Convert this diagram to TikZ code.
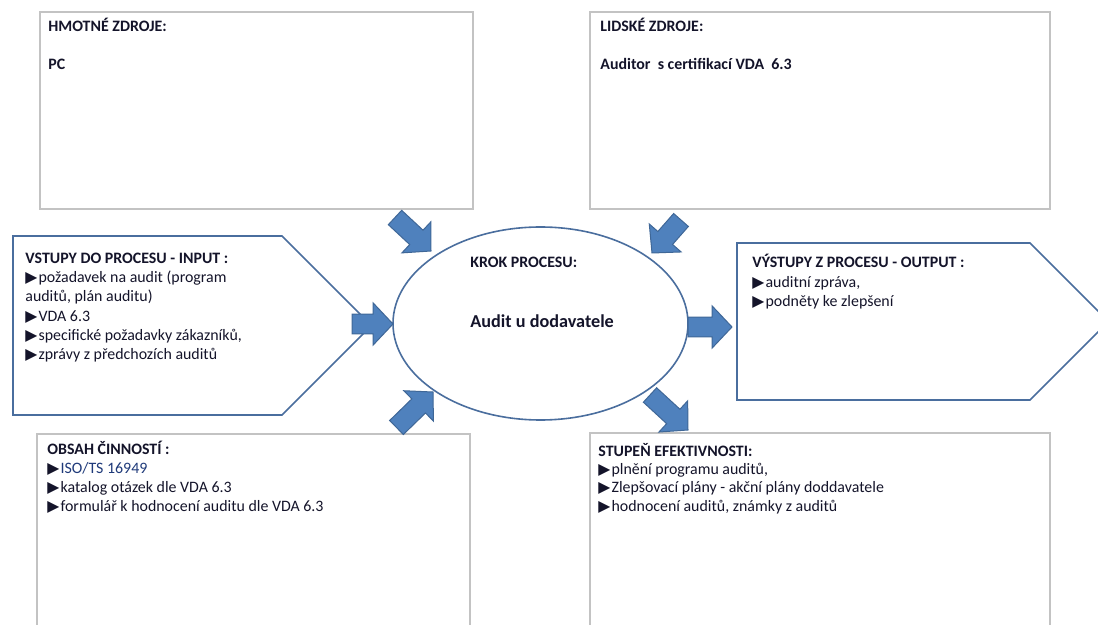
\documentclass[tikz,border=0pt]{standalone}
\usepackage{fontspec}
\setmainfont{Carlito}
\newfontfamily\symfont{DejaVu Sans}
\usetikzlibrary{calc,shapes.geometric}

\definecolor{arrowfill}{HTML}{4F81BD}
\definecolor{arrowline}{HTML}{3F6797}
\definecolor{shapeline}{HTML}{4A6E9E}
\definecolor{boxline}{HTML}{C3C3C3}
\definecolor{ink}{HTML}{14142A}
\definecolor{inkblue}{HTML}{1F3A7A}

% small solid triangle used as list bullet
\newcommand\bul{{\symfont\fontsize{7.8}{7.8}\selectfont ▶}\hspace{0.6pt}}

% block arrow from a tail coordinate to a tip coordinate
\newcommand\blockarrow[3]{% #1 name, #2 tail, #3 tip
  \coordinate (#1-base) at ($(#3)!10pt!(#2)$);
  \draw[barrow] ($(#2)!4.9pt!90:(#3)$) -- ($(#1-base)!4.9pt!90:(#3)$)
    -- ($(#1-base)!10.6pt!90:(#3)$) -- (#3)
    -- ($(#1-base)!10.6pt!-90:(#3)$) -- ($(#1-base)!4.9pt!-90:(#3)$)
    -- ($(#2)!4.9pt!-90:(#3)$) -- cycle;
}

\tikzset{
  panel/.style={draw=boxline, line width=0.6pt},
  flowshape/.style={draw=shapeline, line width=0.8pt},
  hd/.style={font=\fontsize{7.95}{9}\selectfont\bfseries, text=ink, inner sep=0pt, anchor=base west},
  itm/.style={font=\fontsize{7.95}{9}\selectfont, text=ink, inner sep=0pt, anchor=base west},
  barrow/.style={fill=arrowfill, draw=arrowline, line width=0.5pt, line join=miter},
}

\begin{document}
\begin{tikzpicture}[x=0.5pt, y=-0.5pt]
\useasboundingbox (0,0) rectangle (1098,625);
\clip (0,0) rectangle (1098,625);
\fill[white] (0,0) rectangle (1098,625);

% resource and activity panels
\draw[panel] (40,12) rectangle (473,209);
\draw[panel] (590,12) rectangle (1050,209);
\draw[panel] (37,434) rectangle (470,640);
\draw[panel] (590,433) rectangle (1050,640);

% input and output pentagons
\draw[flowshape] (13,236) -- (282,236) -- (371.5,325.5) -- (282,415) -- (13,415) -- cycle;
\draw[flowshape] (737,243) -- (1030,243) -- (1108.5,321.5) -- (1030,400) -- (737,400) -- cycle;

% process step
\node[ellipse, draw=shapeline, line width=0.8pt, inner sep=0pt,
      minimum width=147.5pt, minimum height=96.5pt] (krok) at (540.5,323.5) {};

% block arrows
\coordinate (in-t) at (352,324);   \coordinate (in-h) at (393,324);
\coordinate (out-t) at (688,327);  \coordinate (out-h) at (732,327);
\coordinate (hm-t) at (395,217.5); \coordinate (hm-h) at (431,251);
\coordinate (li-t) at (681,220);   \coordinate (li-h) at (652,253);
\coordinate (ob-t) at (396.5,427.5); \coordinate (ob-h) at (433,392);
\coordinate (st-t) at (650,395);   \coordinate (st-h) at (688,430);
\blockarrow{in}{in-t}{in-h}
\blockarrow{out}{out-t}{out-h}
\blockarrow{hm}{hm-t}{hm-h}
\blockarrow{li}{li-t}{li-h}
\blockarrow{ob}{ob-t}{ob-h}
\blockarrow{st}{st-t}{st-h}

% texts: material resources
\node[hd] (hm1) at (48,31.5) {HMOTNÉ ZDROJE:};
\node[hd] (hm2) at (48,69.5) {PC};

% texts: human resources
\node[hd] (li1) at (600,31.5) {LIDSKÉ ZDROJE:};
\node[hd] (li2) at (600,69.5) {Auditor\ \ s certifikací VDA\ \ 6.3};

% texts: inputs
\node[hd]  (in1) at (25,263.5) {VSTUPY DO PROCESU - INPUT :};
\node[itm] (in2) at (25,282.7) {\bul požadavek na audit (program};
\node[itm] (in3) at (25,301.9) {auditů, plán auditu)};
\node[itm] (in4) at (25,321.1) {\bul VDA 6.3};
\node[itm] (in5) at (25,340.3) {\bul specifické požadavky zákazníků,};
\node[itm] (in6) at (25,359.5) {\bul zprávy z předchozích auditů};

% texts: process step
\node[hd] (kr1) at (470,267.5) {KROK PROCESU:};
\node[hd, font=\fontsize{9.1}{10}\selectfont\bfseries] (kr2) at (470,327.5) {Audit u dodavatele};

% texts: outputs
\node[hd]  (out1) at (752,267.5) {VÝSTUPY Z PROCESU - OUTPUT :};
\node[itm] (out2) at (752,287.5) {\bul auditní zpráva,};
\node[itm] (out3) at (752,306.5) {\bul podněty ke zlepšení};

% texts: activities
\node[hd]  (ob1) at (47,454.5) {OBSAH ČINNOSTÍ :};
\node[itm] (ob2) at (47,473.5) {\bul{\color{inkblue}ISO/TS 16949}};
\node[itm] (ob3) at (47,492.5) {\bul katalog otázek dle VDA 6.3};
\node[itm] (ob4) at (47,512) {\bul formulář k hodnocení auditu dle VDA 6.3};

% texts: effectiveness
\node[hd]  (st1) at (598,456.5) {STUPEŇ EFEKTIVNOSTI:};
\node[itm] (st2) at (598,474.5) {\bul plnění programu auditů,};
\node[itm] (st3) at (598,493) {\bul Zlepšovací plány - akční plány doddavatele};
\node[itm] (st4) at (598,511.5) {\bul hodnocení auditů, známky z auditů};
\end{tikzpicture}
\end{document}
